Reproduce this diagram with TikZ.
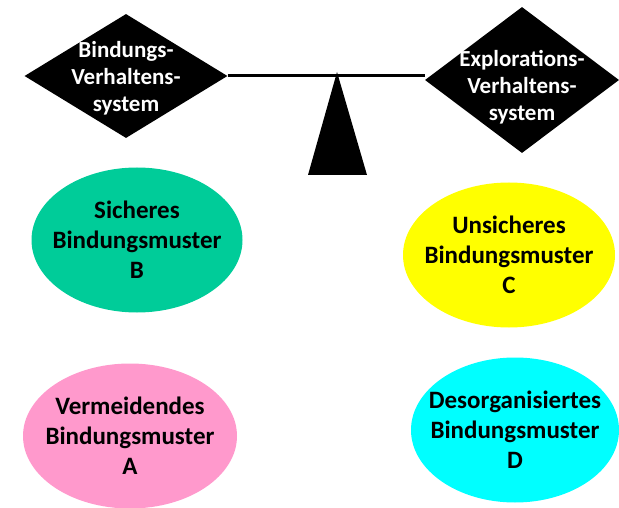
\documentclass[tikz,border=0pt]{standalone}
\usepackage{fontspec}
\setmainfont{Carlito}
\usetikzlibrary{shapes.geometric}
\definecolor{bindgreen}{RGB}{0,204,153}
\definecolor{bindpink}{RGB}{255,153,204}
\definecolor{bindyellow}{RGB}{255,255,0}
\definecolor{bindcyan}{RGB}{0,255,255}
\begin{document}
\begin{tikzpicture}[x=1pt,y=-1pt,
    sys/.style={diamond,fill=black,inner sep=0pt},
    systext/.style={text=white,font=\fontsize{23}{27}\selectfont\bfseries,align=center},
    muster/.style={ellipse,inner sep=0pt,minimum width=211pt,minimum height=145pt},
    mustertext/.style={font=\fontsize{25}{30}\selectfont\bfseries,align=center}]
  \useasboundingbox (0,0) rectangle (619,508);

  % Waage
  \node[sys,minimum width=203pt,minimum height=124pt] (bind) at (126,76) {};
  \node[sys,minimum width=194pt,minimum height=146pt] (expl) at (522,80) {};
  \node[systext] (bindt) at ([yshift=-2pt]bind.center) {Bindungs-\\Verhaltens-\\system};
  \node[systext] (explt) at ([yshift=-7pt]expl.center) {Explorations-\\Verhaltens-\\system};
  \draw[line width=3pt] (bind.east) -- (bind.east -| expl.west);
  \coordinate (pivot) at (337,72);
  \fill (pivot) -- (308,175) -- (367,175) -- cycle;

  % Bindungsmuster
  \node[muster,fill=bindgreen] (sicher) at (137,240) {};
  \node[muster,fill=bindyellow,minimum width=212pt] (unsicher) at (509,255) {};
  \node[muster,fill=bindpink,minimum width=214pt] (vermeid) at (130,436) {};
  \node[muster,fill=bindcyan,minimum width=208pt] (desorg) at (515,430) {};
  \node[mustertext] (sichert) at (sicher) {Sicheres\\Bindungsmuster\\B};
  \node[mustertext] (unsichert) at (unsicher) {Unsicheres\\Bindungsmuster\\C};
  \node[mustertext] (vermeidt) at (vermeid) {Vermeidendes\\Bindungsmuster\\A};
  \node[mustertext] (desorgt) at (desorg) {Desorganisiertes\\Bindungsmuster\\D};
\end{tikzpicture}
\end{document}
